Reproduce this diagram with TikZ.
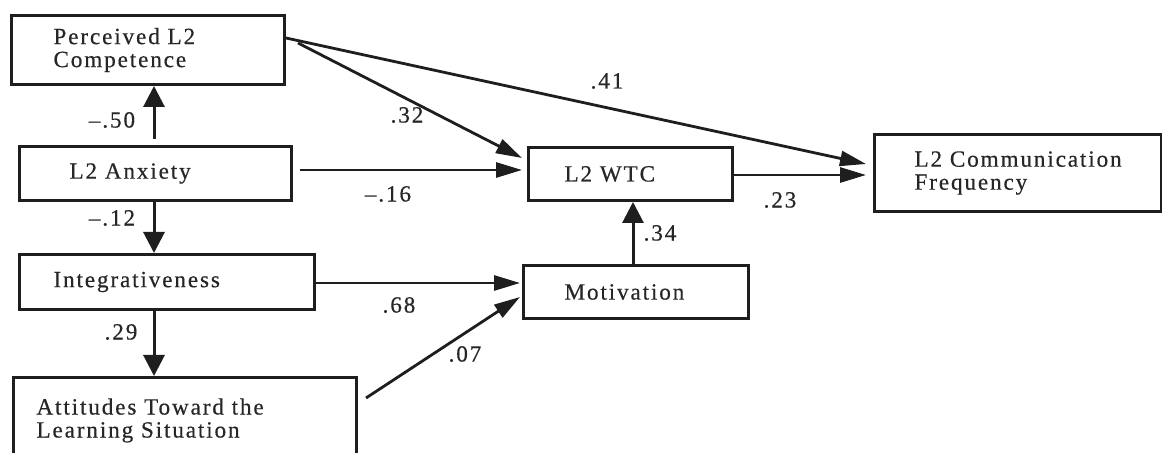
\documentclass[tikz,border=0pt]{standalone}
\usepackage{fontspec}
\setmainfont{Liberation Serif}[LetterSpace=8,FakeBold=0.4]
\usetikzlibrary{arrows.meta,calc}
\definecolor{ink}{HTML}{1E1E1E}
\definecolor{txt}{HTML}{262626}
\begin{document}
\begin{tikzpicture}[x=0.5pt,y=-0.5pt,
  font=\fontsize{11.6}{11.5}\selectfont,
  box/.style={draw=ink,line width=1.5pt,rectangle,anchor=north west,align=left,
    text=txt,inner ysep=0pt},
  harr/.style={draw=ink,line width=1.4pt,-{Triangle[length=13pt,width=7.5pt]}},
  varr/.style={draw=ink,line width=1.5pt,-{Triangle[length=10.5pt,width=10.5pt]}},
  coef/.style={text=txt,inner sep=0pt}]
\useasboundingbox (0,0) rectangle (1162,453);
\clip (0,0) rectangle (1162,453);
\fill[white] (0,0) rectangle (1162,453);

\node[box,inner xsep=21pt,text width=94.5pt,minimum height=34.5pt] (per) at (10,14) {Perceived L2\\Competence};
\node[box,inner xsep=25pt,text width=86pt,minimum height=27pt] (anx) at (18,145) {L2 Anxiety};
\node[box,inner xsep=17pt,text width=113.5pt,minimum height=27.5pt] (int) at (18,253) {Integrativeness};
\node[box,inner xsep=11.5pt,text width=148.5pt,minimum height=43pt] (att) at (12,376) {Attitudes Toward the\\Learning Situation};
\node[box,inner xsep=18pt,text width=66pt,minimum height=26.5pt] (wtc) at (527,146) {L2 WTC};
\node[box,inner xsep=20.5pt,text width=71.5pt,minimum height=26.5pt] (mot) at (522,264) {Motivation};
\node[box,inner xsep=20pt,text width=103.5pt,minimum height=38.5pt] (com) at (873,133) {L2 Communication\\Frequency};

\draw[varr] ($(anx.north west)+(136,-6)$) -- ($(per.south west)+(144,0)$);
\draw[varr] ($(anx.south west)+(136,0)$) -- ($(int.north west)+(136,0)$);
\draw[varr] ($(int.south west)+(136,0)$) -- ($(att.north west)+(142,0)$);
\draw[harr] ($(per.north east)+(12,29)$) -- ($(wtc.north west)+(-5,12)$);
\draw[harr] ($(per.north east)+(0,24)$) -- ($(com.north west)+(-7,31)$);
\draw[harr] ($(anx.north east)+(7,25)$) -- ($(wtc.north west)+(-5,24)$);
\draw[harr] ($(wtc.north east)+(0,29)$) -- ($(com.north west)+(-7,42)$);
\draw[varr] ($(mot.north west)+(111,0)$) -- ($(wtc.south west)+(106,0)$);
\draw[harr] ($(int.north east)+(0,30)$) -- ($(mot.north west)+(-2,19)$);
\draw[harr] ($(att.north east)+(8,22)$) -- ($(mot.north west)+(-2,33)$);

\node[coef] (c50) at (112,120) {–.50};
\node[coef] (c12) at (112,218) {–.12};
\node[coef] (c29) at (121,332) {.29};
\node[coef] (c32) at (407,115) {.32};
\node[coef] (c41) at (607,81) {.41};
\node[coef] (c16) at (388,194) {–.16};
\node[coef] (c23) at (780,200) {.23};
\node[coef] (c34) at (660,233) {.34};
\node[coef] (c68) at (399,305) {.68};
\node[coef] (c07) at (465,354) {.07};
\end{tikzpicture}
\end{document}
